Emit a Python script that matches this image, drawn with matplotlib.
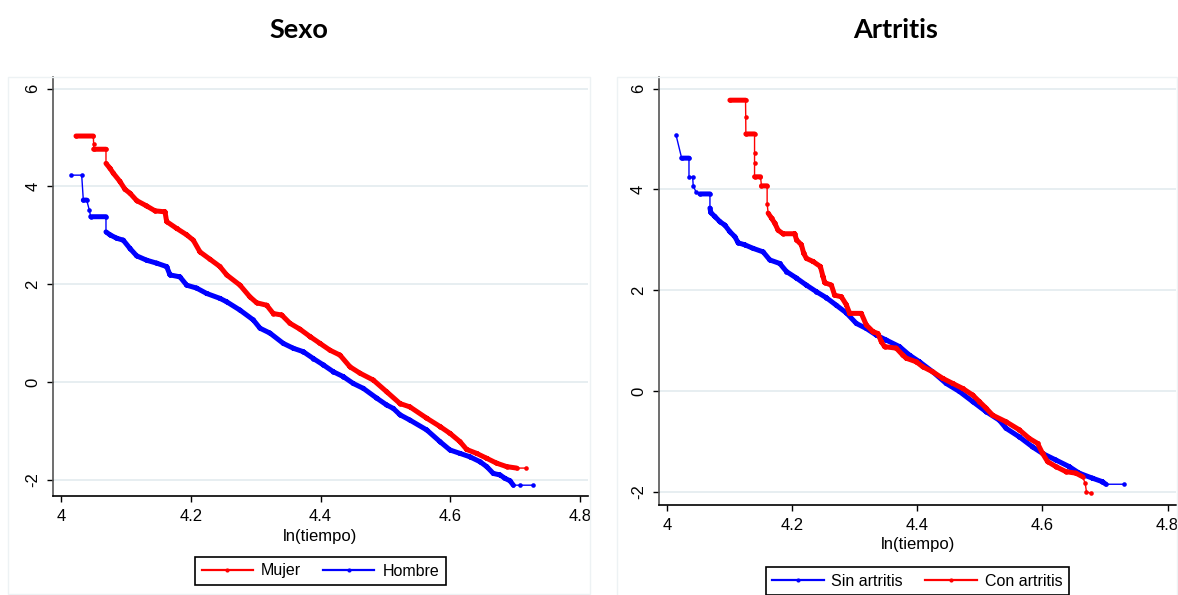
import numpy as np
import matplotlib
matplotlib.use("Agg")
import matplotlib.pyplot as plt
from matplotlib import font_manager
from matplotlib.lines import Line2D
from matplotlib.patches import Rectangle

# ---- data (ln(time) vs log-log survival) ----
sexo_mujer_x = [4.0224, 4.0491, 4.0497, 4.0497, 4.0687, 4.0687, 4.0749, 4.0800, 4.0903, 4.0980,
                4.1058, 4.1161, 4.1315, 4.1444, 4.1598, 4.1624, 4.1779, 4.1933, 4.2035, 4.2138,
                4.2293, 4.2447, 4.2551, 4.2756, 4.2910, 4.3014, 4.3168, 4.3270, 4.3400, 4.3528,
                4.3682, 4.3837, 4.3991, 4.4146, 4.4300, 4.4455, 4.4609, 4.4814, 4.5021, 4.5226,
                4.5381, 4.5639, 4.5844, 4.5998, 4.6153, 4.6256, 4.6410, 4.6565, 4.6719, 4.6873,
                4.7028, 4.7167]
sexo_mujer_y = [5.03, 5.03, 4.87, 4.76, 4.76, 4.47, 4.37, 4.27, 4.10, 3.94,
                3.86, 3.71, 3.60, 3.50, 3.48, 3.28, 3.14, 3.01, 2.90, 2.66,
                2.51, 2.36, 2.19, 1.98, 1.74, 1.62, 1.57, 1.40, 1.37, 1.20,
                1.08, 0.93, 0.79, 0.65, 0.55, 0.31, 0.18, 0.04, -0.20, -0.44,
                -0.51, -0.74, -0.91, -1.05, -1.22, -1.38, -1.46, -1.56, -1.66, -1.73,
                -1.76, -1.76]

sexo_hombre_x = [4.0142, 4.0312, 4.0337, 4.0389, 4.0429, 4.0451, 4.0687, 4.0687, 4.0749, 4.0852,
                 4.0954, 4.1058, 4.1161, 4.1315, 4.1470, 4.1624, 4.1675, 4.1829, 4.1933, 4.2087,
                 4.2242, 4.2447, 4.2551, 4.2756, 4.2961, 4.3065, 4.3219, 4.3424, 4.3579, 4.3733,
                 4.3888, 4.4042, 4.4197, 4.4351, 4.4505, 4.4660, 4.4867, 4.5021, 4.5123, 4.5226,
                 4.5381, 4.5639, 4.5844, 4.5998, 4.6153, 4.6307, 4.6462, 4.6565, 4.6667, 4.6770,
                 4.6847, 4.6925, 4.6976, 4.7079, 4.7284]
sexo_hombre_y = [4.23, 4.23, 3.72, 3.72, 3.52, 3.38, 3.38, 3.07, 3.01, 2.94,
                 2.90, 2.73, 2.58, 2.49, 2.43, 2.36, 2.19, 2.15, 1.98, 1.92,
                 1.81, 1.71, 1.64, 1.47, 1.27, 1.10, 1.00, 0.79, 0.69, 0.62,
                 0.48, 0.35, 0.21, 0.11, -0.03, -0.13, -0.33, -0.47, -0.54, -0.67,
                 -0.78, -0.98, -1.22, -1.39, -1.46, -1.53, -1.63, -1.73, -1.87, -1.90,
                 -1.97, -2.02, -2.11, -2.11, -2.11]

artr_sin_x = [4.0144, 4.0234, 4.0351, 4.0351, 4.0410, 4.0419, 4.0463, 4.0526, 4.0686, 4.0686,
              4.0700, 4.0766, 4.0845, 4.0925, 4.1005, 4.1085, 4.1137, 4.1244, 4.1376, 4.1536,
              4.1643, 4.1802, 4.1909, 4.2069, 4.2228, 4.2388, 4.2547, 4.2707, 4.2866, 4.3026,
              4.3185, 4.3344, 4.3504, 4.3716, 4.3876, 4.4035, 4.4247, 4.4461, 4.4673, 4.4885,
              4.5099, 4.5311, 4.5418, 4.5630, 4.5842, 4.6002, 4.6215, 4.6427, 4.6587, 4.6799,
              4.6959, 4.7013, 4.7305]
artr_sin_y = [5.08, 4.62, 4.62, 4.25, 4.24, 4.07, 3.95, 3.91, 3.91, 3.63,
              3.54, 3.46, 3.36, 3.29, 3.16, 3.06, 2.94, 2.90, 2.83, 2.76,
              2.60, 2.53, 2.37, 2.24, 2.10, 1.97, 1.85, 1.70, 1.55, 1.34,
              1.24, 1.11, 1.01, 0.88, 0.71, 0.58, 0.38, 0.15, -0.01, -0.21,
              -0.41, -0.58, -0.74, -0.91, -1.11, -1.24, -1.37, -1.50, -1.63, -1.73,
              -1.80, -1.85, -1.85]

artr_con_x = [4.1005, 4.1255, 4.1258, 4.1260, 4.1399, 4.1399, 4.1399, 4.1399, 4.1494, 4.1510,
              4.1600, 4.1600, 4.1616, 4.1670, 4.1722, 4.1775, 4.1855, 4.2041, 4.2069, 4.2148,
              4.2185, 4.2228, 4.2333, 4.2451, 4.2493, 4.2520, 4.2627, 4.2679, 4.2786, 4.2866,
              4.2919, 4.3105, 4.3185, 4.3290, 4.3370, 4.3424, 4.3477, 4.3663, 4.3769, 4.3823,
              4.3982, 4.4088, 4.4247, 4.4407, 4.4566, 4.4726, 4.4885, 4.4992, 4.5099, 4.5204,
              4.5418, 4.5630, 4.5789, 4.5922, 4.6002, 4.6081, 4.6215, 4.6375, 4.6534, 4.6640,
              4.6683, 4.6703, 4.6773]
artr_con_y = [5.77, 5.77, 5.44, 5.10, 5.10, 4.72, 4.53, 4.25, 4.25, 4.07,
              4.07, 3.72, 3.53, 3.43, 3.33, 3.19, 3.12, 3.12, 3.00, 2.90,
              2.73, 2.63, 2.57, 2.47, 2.27, 2.15, 2.10, 1.90, 1.87, 1.71,
              1.54, 1.54, 1.31, 1.18, 1.14, 0.98, 0.88, 0.85, 0.71, 0.65,
              0.58, 0.48, 0.38, 0.25, 0.15, 0.05, -0.08, -0.21, -0.34, -0.48,
              -0.61, -0.77, -0.94, -1.04, -1.24, -1.40, -1.50, -1.60, -1.63, -1.70,
              -1.83, -2.00, -2.03]

x_ticks = [4, 4.2, 4.4, 4.6, 4.8]
y_ticks = [-2, 0, 2, 4, 6]

RED = "#ff0000"
BLUE = "#0000ff"
W, H = 1178, 595


def pick(names):
    for n in names:
        try:
            font_manager.findfont(n, fallback_to_default=False)
            return n
        except Exception:
            pass
    return "DejaVu Sans"


NARROW = pick(["Liberation Sans Narrow", "Liberation Sans"])
ARIAL = pick(["Liberation Sans", "DejaVu Sans"])
TITLEF = pick(["Lato", "Open Sans", "DejaVu Sans"])


def draw_curve(ax, xs, ys, color, dense, flats):
    xs = np.asarray(xs)
    ys = np.asarray(ys)
    ax.plot(xs, ys, color=color, lw=1.0, marker="o", ms=3.3, mew=0, zorder=3)
    tx, ty = [], []
    for i in range(len(xs) - 1):
        x0, x1, y0, y1 = xs[i], xs[i + 1], ys[i], ys[i + 1]
        thick = (dense[0] - 1e-9 <= x0 and x1 <= dense[1] + 1e-9 and x1 > x0)
        thick = thick or (y0 == y1 and y0 in flats)
        if thick:
            tx += [x0, x1, np.nan]
            ty += [y0, y1, np.nan]
    ax.plot(tx, ty, color=color, lw=3.6, solid_capstyle="round",
            solid_joinstyle="round", zorder=3)


def style_axes(ax, xlim, ylim):
    ax.set_xlim(*xlim)
    ax.set_ylim(*ylim)
    ax.set_xticks(x_ticks)
    ax.set_xticklabels(["4", "4.2", "4.4", "4.6", "4.8"], fontfamily=NARROW, fontsize=12)
    ax.set_yticks(y_ticks)
    ax.set_yticklabels([str(v) for v in y_ticks], fontfamily=ARIAL, fontsize=12,
                       rotation=90, va="center")
    ax.grid(axis="y", color="#e7eef1", lw=1.4)
    ax.set_axisbelow(True)
    for s in ["top", "right"]:
        ax.spines[s].set_visible(False)
    ax.spines["left"].set_color("#555555")
    ax.spines["bottom"].set_color("black")
    ax.spines["left"].set_linewidth(1.2)
    ax.spines["bottom"].set_linewidth(1.2)
    ax.tick_params(axis="y", length=4, width=1, pad=5)
    ax.tick_params(axis="x", length=4.5, width=1, pad=5)


fig = plt.figure(figsize=(W / 100, H / 100), dpi=100)

# faint Stata graph-region borders
for (x0, y0, x1, y1) in [(8, 77, 590, 594), (617, 77, 1177, 600)]:
    fig.patches.append(Rectangle((x0 / W, 1 - y1 / H), (x1 - x0) / W, (y1 - y0) / H,
                                 transform=fig.transFigure, fill=False,
                                 edgecolor="#edf2f4", lw=1.0, zorder=0))

ax1 = fig.add_axes([53 / W, 1 - 496 / H, (588 - 53) / W, (496 - 77) / H])
ax2 = fig.add_axes([658.5 / W, 1 - 504.7 / H, (1176 - 658.5) / W, (504.7 - 77.3) / H])

style_axes(ax1, (3.9869, 4.8129), (-2.331, 6.237))
style_axes(ax2, (3.9864, 4.8134), (-2.256, 6.224))

draw_curve(ax1, sexo_hombre_x, sexo_hombre_y, BLUE, (4.0687, 4.6976), [3.72, 3.38])
draw_curve(ax1, sexo_mujer_x, sexo_mujer_y, RED, (4.0687, 4.7028), [5.03, 4.76])
draw_curve(ax2, artr_sin_x, artr_sin_y, BLUE, (4.0686, 4.7013), [4.62, 4.25, 3.91])
draw_curve(ax2, artr_con_x, artr_con_y, RED, (4.1616, 4.6640), [5.77, 5.10, 4.25, 4.07])

fig.text(299 / W, 1 - 30 / H, "Sexo", fontfamily=TITLEF, fontweight="bold",
         fontsize=19.5, ha="center", va="center")
fig.text(896 / W, 1 - 30 / H, "Artritis", fontfamily=TITLEF, fontweight="bold",
         fontsize=19.5, ha="center", va="center")

fig.text(320.5 / W, 1 - 536 / H, "ln(tiempo)", fontfamily=NARROW, fontsize=12,
         ha="center", va="center")
fig.text(917.8 / W, 1 - 544 / H, "ln(tiempo)", fontfamily=NARROW, fontsize=12,
         ha="center", va="center")


def legend(ax, items, center):
    handles = [Line2D([], [], color=c, lw=1.6, marker="o", ms=3, mew=0) for c, _ in items]
    leg = ax.legend(handles, [t for _, t in items], loc="center",
                    bbox_to_anchor=(center[0] / W, 1 - center[1] / H),
                    bbox_transform=fig.transFigure, ncol=2, numpoints=1,
                    frameon=True, fancybox=False, edgecolor="black", framealpha=1,
                    borderpad=0.4, handlelength=3.2, handletextpad=0.5,
                    columnspacing=1.4, prop={"family": NARROW, "size": 11.5})
    leg.get_frame().set_linewidth(1.2)


legend(ax1, [(RED, "Mujer"), (BLUE, "Hombre")], (320.5, 571))
legend(ax2, [(BLUE, "Sin artritis"), (RED, "Con artritis")], (917.3, 581))

fig.savefig("out.png", dpi=100)
